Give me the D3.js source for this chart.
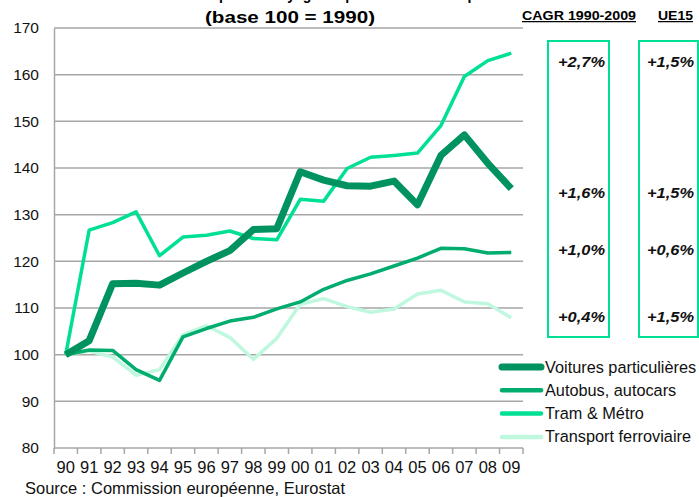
<!DOCTYPE html>
<html>
<head>
<meta charset="utf-8">
<script src="https://cdn.jsdelivr.net/npm/d3@7"></script>
<style>
  body { margin: 0; background: #fff; }
  svg { display: block; font-family: "Liberation Sans", Arial, sans-serif; }
</style>
</head>
<body>
<div id="chart"></div>
<script>
// Data

var years = ['90','91','92','93','94','95','96','97','98','99','00','01','02','03','04','05','06','07','08','09'];
var yTicks = [80, 90, 100, 110, 120, 130, 140, 150, 160, 170];

var voitures = [100, 103, 115.2, 115.3, 114.9, 117.5, 120, 122.3, 126.8, 127, 139.2, 137.4, 136.2, 136.1, 137.2, 132.1, 142.7, 147.1, 141, 135.6];
var autobus = [100, 101, 100.9, 96.8, 94.5, 103.8, 105.6, 107.2, 108, 109.8, 111.3, 114, 115.9, 117.3, 119, 120.7, 122.8, 122.7, 121.8, 121.9];
var tram = [100, 126.7, 128.3, 130.6, 121.2, 125.2, 125.6, 126.5, 124.9, 124.6, 133.3, 132.9, 139.9, 142.3, 142.7, 143.2, 149.1, 159.6, 163, 164.6];
var ferroviaire = [100, 100.8, 99.5, 95.6, 96.8, 104.3, 106.2, 103.7, 99, 103.5, 110.8, 112, 110.3, 109.1, 109.8, 113, 113.8, 111.3, 110.9, 107.9];

var seriesNames = ['Voitures particulières', 'Autobus, autocars', 'Tram & Métro', 'Transport ferroviaire'];
var cagr = ['+2,7%', '+1,6%', '+1,0%', '+0,4%'];
var ue15 = ['+1,5%', '+1,5%', '+0,6%', '+1,5%'];

// Dimensions

var width = 699;
var height = 497;
var plot = { left: 54, right: 523, top: 28, bottom: 448 };

var series = [
  { name: seriesNames[0], values: voitures, color: '#00925f', w: 7 },
  { name: seriesNames[1], values: autobus, color: '#00ac6e', w: 3.5 },
  { name: seriesNames[2], values: tram, color: '#00e094', w: 3.5 },
  { name: seriesNames[3], values: ferroviaire, color: '#c0f7df', w: 3.5 }
];

var svg = d3.select('#chart').append('svg')
  .attr('width', width)
  .attr('height', height);

var x = d3.scaleBand()
  .domain(years)
  .range([plot.left, plot.right]);

var y = d3.scaleLinear()
  .domain([80, 170])
  .range([plot.bottom, plot.top]);

// Titles (first line is cut by the top edge, as in the original)

svg.append('text')
  .attr('x', 295)
  .attr('y', -0.5)
  .attr('text-anchor', 'middle')
  .attr('font-weight', 'bold')
  .attr('font-size', 16)
  .attr('textLength', 400)
  .attr('lengthAdjust', 'spacingAndGlyphs')
  .text('Évolution du transport de voyageurs par mode de transport');

svg.append('text')
  .attr('x', 290)
  .attr('y', 23)
  .attr('text-anchor', 'middle')
  .attr('font-weight', 'bold')
  .attr('font-size', 16)
  .attr('textLength', 170)
  .attr('lengthAdjust', 'spacingAndGlyphs')
  .text('(base 100 = 1990)');

// Gridlines

svg.append('g')
  .selectAll('line')
  .data(yTicks.filter(function (d) { return d > 80; }))
  .enter().append('line')
  .attr('x1', plot.left)
  .attr('x2', plot.right)
  .attr('y1', function (d) { return y(d); })
  .attr('y2', function (d) { return y(d); })
  .attr('stroke', '#a6a6a6')
  .attr('stroke-width', 1.5);

// Axes

var yAxis = svg.append('g')
  .attr('transform', 'translate(' + plot.left + ',0)')
  .call(d3.axisLeft(y).tickValues(yTicks).tickSize(0).tickPadding(15));
yAxis.select('.domain').attr('stroke', '#a6a6a6').attr('stroke-width', 1.5);
yAxis.selectAll('text').attr('font-size', 15.5).attr('fill', '#111')
  .attr('font-family', '"Liberation Sans", Arial, sans-serif');

var xAxis = svg.append('g')
  .attr('transform', 'translate(0,' + plot.bottom + ')');
xAxis.append('line')
  .attr('x1', plot.left).attr('x2', plot.right)
  .attr('stroke', '#a6a6a6').attr('stroke-width', 1.5);
xAxis.selectAll('.tk')
  .data(years.concat(['end']))
  .enter().append('line')
  .attr('class', 'tk')
  .attr('x1', function (d, i) { return plot.left + i * x.bandwidth(); })
  .attr('x2', function (d, i) { return plot.left + i * x.bandwidth(); })
  .attr('y1', 0).attr('y2', 6)
  .attr('stroke', '#a6a6a6').attr('stroke-width', 1.5);
xAxis.selectAll('.lbl')
  .data(years)
  .enter().append('text')
  .attr('class', 'lbl')
  .attr('x', function (d) { return x(d) + x.bandwidth() / 2; })
  .attr('y', 25)
  .attr('text-anchor', 'middle')
  .attr('font-size', 16.5)
  .attr('fill', '#111')
  .text(function (d) { return d; });

// Lines

var line = d3.line()
  .x(function (d, i) { return x(years[i]) + x.bandwidth() / 2; })
  .y(function (d) { return y(d); });

var order = [3, 1, 2, 0];
svg.append('g')
  .selectAll('path')
  .data(order.map(function (i) { return series[i]; }))
  .enter().append('path')
  .attr('d', function (d) { return line(d.values); })
  .attr('fill', 'none')
  .attr('stroke', function (d) { return d.color; })
  .attr('stroke-width', function (d) { return d.w; })
  .attr('stroke-linejoin', 'round');

// Legend

var legend = svg.append('g')
  .attr('transform', 'translate(500,367)');
var rows = legend.selectAll('g')
  .data(series)
  .enter().append('g')
  .attr('transform', function (d, i) { return 'translate(0,' + (i * 23.3) + ')'; });
rows.append('line')
  .attr('x1', 2).attr('x2', 41)
  .attr('stroke', function (d) { return d.color; })
  .attr('stroke-width', function (d) { return d.w === 7 ? 7 : 4.5; })
  .attr('stroke-linecap', 'round');
rows.append('text')
  .attr('x', 45)
  .attr('y', 5.5)
  .attr('font-size', 16.3)
  .attr('fill', '#111')
  .text(function (d) { return d.name; });

// CAGR boxes

svg.append('text')
  .attr('x', 579).attr('y', 20)
  .attr('text-anchor', 'middle')
  .attr('font-weight', 'bold')
  .attr('font-size', 12.5)
  .attr('textLength', 114)
  .attr('lengthAdjust', 'spacingAndGlyphs')
  .attr('text-decoration', 'underline')
  .text('CAGR 1990-2009');

svg.append('text')
  .attr('x', 675.5).attr('y', 20)
  .attr('text-anchor', 'middle')
  .attr('font-weight', 'bold')
  .attr('font-size', 12.5)
  .attr('textLength', 35)
  .attr('lengthAdjust', 'spacingAndGlyphs')
  .attr('text-decoration', 'underline')
  .text('UE15');

var rowY = [62, 193, 250, 317];
var boxes = [
  { x0: 548, x1: 609, vals: cagr },
  { x0: 639, x1: 698, vals: ue15 }
];

boxes.forEach(function (b) {
  svg.append('rect')
    .attr('x', b.x0).attr('y', 41)
    .attr('width', b.x1 - b.x0).attr('height', 296)
    .attr('fill', 'none')
    .attr('stroke', '#00e094')
    .attr('stroke-width', 2);
  svg.selectAll(null)
    .data(b.vals)
    .enter().append('text')
    .attr('x', b.x1 - 4)
    .attr('y', function (d, i) { return rowY[i] + 5; })
    .attr('text-anchor', 'end')
    .attr('font-weight', 'bold')
    .attr('font-style', 'italic')
    .attr('font-size', 14.5)
    .attr('textLength', 47)
    .attr('lengthAdjust', 'spacingAndGlyphs')
    .attr('fill', '#111')
    .text(function (d) { return d; });
});

// Source

svg.append('text')
  .attr('x', 25).attr('y', 494)
  .attr('font-size', 16.5)
  .attr('fill', '#111')
  .text('Source : Commission européenne, Eurostat');
</script>
</body>
</html>
